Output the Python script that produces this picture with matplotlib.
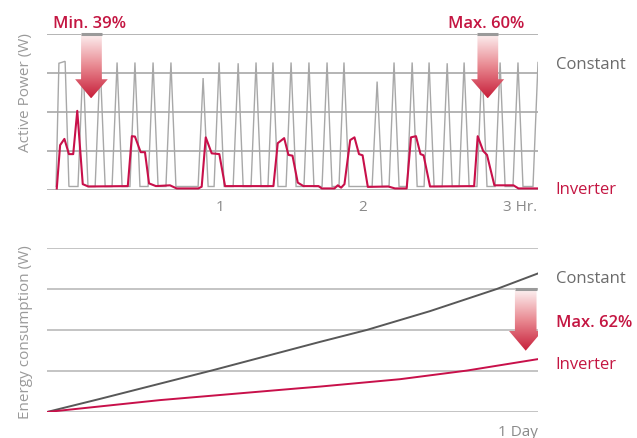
import numpy as np
import matplotlib
matplotlib.use("Agg")
import matplotlib.pyplot as plt
from matplotlib.patches import Polygon
from matplotlib.colors import LinearSegmentedColormap
import matplotlib.transforms as mtransforms

plt.rcParams['font.family'] = ['Open Sans', 'DejaVu Sans']

# ---- top chart: active power over ~3 hours (x in minutes, y in grid units 0..4)
const_t = [-8.8, -7.6, -5.0, -3.4, 0.4,
           2.5, 4.6, 7.6, 9.7, 11.8, 14.7, 16.8, 18.9, 22.2, 24.3, 26.4,
           29.8, 31.9, 34.0, 37.3, 39.4, 41.5,
           50.8, 52.9, 55.0, 57.5, 59.6, 61.7, 65.5, 67.6, 69.7, 73.0, 75.1,
           77.2, 80.1, 82.2, 84.3, 87.7, 89.8, 91.9, 95.2, 97.3, 99.4, 102.8,
           104.9, 107.0, 109.9, 112.0, 114.1,
           123.8, 125.9, 128.0, 130.9, 133.0, 135.1, 138.5, 140.6, 142.7,
           145.6, 147.7, 149.8, 153.2, 155.3, 157.4, 160.3, 162.4, 164.5,
           167.8, 169.9, 172.0, 175.4, 177.5, 179.6, 182.9, 185.0, 187.1,
           191.3, 193.4]
const_p = [0.09, 3.25, 3.30, 0.09, 0.09,
           3.27, 0.09, 0.09, 3.27, 0.09, 0.09, 3.27, 0.09, 0.09, 3.27, 0.09,
           0.09, 3.27, 0.09, 0.09, 3.27, 0.09,
           0.09, 2.87, 0.09, 0.09, 3.27, 0.09, 0.09, 3.25, 0.09, 0.09, 3.27,
           0.09, 0.09, 3.27, 0.09, 0.09, 3.27, 0.09, 0.09, 3.27, 0.09, 0.09,
           3.27, 0.09, 0.09, 3.27, 0.09,
           0.09, 2.78, 0.09, 0.09, 3.27, 0.09, 0.09, 3.27, 0.09,
           0.09, 3.27, 0.09, 0.09, 3.25, 0.09, 0.09, 3.27, 0.09,
           0.09, 3.25, 0.09, 0.09, 3.27, 0.09, 0.09, 3.27, 0.09,
           0.09, 3.27]

inv_t = [-8.5, -7.1, -5.3, -3.4, -1.6, 0.1, 2.4, 4.7,
         21.3, 23.0, 24.3, 26.7, 28.5, 30.2, 33.1, 39.0, 41.8,
         50.9, 52.3, 54.0, 56.5, 59.7, 62.1,
         82.4, 84.2, 86.9, 88.7, 90.4, 92.6, 95.0,
         101.3, 102.7, 108.0, 109.4, 110.8, 112.2,
         114.6, 116.4, 118.3, 119.8, 122.0,
         130.6, 133.4, 138.3, 140.1, 142.2, 144.1, 145.4, 148.1,
         166.6, 168.1, 170.4, 172.0, 175.1, 183.1, 185.2, 193.4]
inv_p = [0.04, 1.15, 1.31, 0.92, 0.92, 2.03, 0.15, 0.09,
         0.10, 1.38, 1.37, 0.97, 0.97, 0.17, 0.10, 0.12, 0.04,
         0.04, 0.085, 1.35, 0.94, 0.92, 0.10,
         0.10, 1.20, 1.33, 0.90, 0.88, 0.19, 0.10,
         0.10, 0.04, 0.04, 0.12, 0.06, 0.15,
         1.28, 1.35, 0.92, 0.89, 0.08,
         0.09, 0.04, 0.04, 1.35, 1.38, 0.92, 0.89, 0.09,
         0.10, 1.38, 1.00, 0.90, 0.12, 0.12, 0.04, 0.04]

hour_ticks = [60, 120]
hour_labels = ['1', '2']

# ---- bottom chart: accumulated energy over one day (x in days)
const_d = [0.0, 0.108, 0.338, 0.556, 0.651, 0.780, 0.916, 1.0]
const_e = [0.0, 0.32, 1.02, 1.71, 2.00, 2.46, 3.00, 3.38]
inv_d = [0.0, 0.230, 0.515, 0.556, 0.719, 0.855, 1.0]
inv_e = [0.0, 0.29, 0.58, 0.62, 0.80, 1.01, 1.29]

RED = '#c8104a'
RED_TXT = '#c41642'
GREY_TXT = '#6b6b6b'
AX_TXT = '#9a9a9a'

fig = plt.figure(figsize=(6.37, 4.38), dpi=100)
ax1 = fig.add_axes([47/637, 1 - 190/438, 491/637, 156/438])
ax2 = fig.add_axes([47/637, 1 - 412/438, 491/637, 164/438])

for ax, gcol in ((ax1, '#a0a0a0'), (ax2, '#b4b4b4')):
    ax.set_ylim(0, 4)
    ax.set_yticks(range(5))
    ax.yaxis.grid(True, color=gcol, lw=1.1)
    ax.set_axisbelow(True)
    for s in ax.spines.values():
        s.set_visible(False)
    ax.tick_params(length=0, labelleft=False, labelsize=11, colors='#8a8a8a', pad=7)

ax1.plot(const_t, const_p, color='#a8a8a8', lw=1.0, solid_joinstyle='miter')
ax1.plot(inv_t, inv_p, color=RED, lw=1.5)
ax1.set_xlim(-12.6, 193.4)
ax1.set_xticks(hour_ticks)
ax1.set_xticklabels(hour_labels)
ax1.text(178.6, -0.55, '3 Hr.', ha='left', va='baseline', fontsize=11, color='#8a8a8a')

ax2.plot(const_d, const_e, color='#585858', lw=1.4)
ax2.plot(inv_d, inv_e, color=RED, lw=1.4)
ax2.set_xlim(0, 1)
ax2.set_xticks([])
ax2.text(1.0, -0.58, '1 Day', ha='right', va='baseline', fontsize=11, color='#8a8a8a')

cmap = LinearSegmentedColormap.from_list('arr', ['#fdf3f3', '#e98a92', '#c71f3a'])


def grad_arrow(ax, x0, x1, hx0, hx1, tipx, ytop, yhead, ytip):
    pts = [(x0, ytop), (x1, ytop), (x1, yhead), (hx1, yhead), (tipx, ytip),
           (hx0, yhead), (x0, yhead)]
    poly = Polygon(pts, closed=True, facecolor='none', edgecolor='none',
                   transform=ax.transData)
    ax.add_patch(poly)
    grad = np.linspace(0, 1, 200).reshape(-1, 1)
    im = ax.imshow(grad, cmap=cmap, aspect='auto', origin='upper',
                   extent=[hx0, hx1, ytip, ytop], zorder=5)
    im.set_clip_path(poly)
    im.set_clip_box(None)
    ax.plot([x0, x1], [ytop, ytop], color='#9a9a9a', lw=2.2, zorder=6,
            clip_on=False, solid_capstyle='butt')


grad_arrow(ax1, 1.7, 10.4, -0.8, 12.9, 5.9, 4.0, 2.84, 2.35)
grad_arrow(ax1, 168.0, 176.7, 165.3, 179.2, 172.3, 4.0, 2.84, 2.35)
grad_arrow(ax2, 0.953, 0.997, 0.941, 1.009, 0.975, 3.0, 1.976, 1.495)
ax1.set_xlim(-12.6, 193.4)
ax1.set_ylim(0, 4)
ax2.set_xlim(0, 1)
ax2.set_ylim(0, 4)

# annotations
fig.text(53/637, 1 - 28.3/438, 'Min. 39%', ha='left', va='baseline',
         fontsize=12, fontweight='semibold', color=RED_TXT)
fig.text(447.7/637, 1 - 28.3/438, 'Max. 60%', ha='left', va='baseline',
         fontsize=12, fontweight='semibold', color=RED_TXT)
fig.text(555.7/637, 1 - 69.3/438, 'Constant', ha='left', va='baseline',
         fontsize=12, color=GREY_TXT)
fig.text(555.7/637, 1 - 194.3/438, 'Inverter', ha='left', va='baseline',
         fontsize=12, color=RED_TXT)
fig.text(555.7/637, 1 - 282.7/438, 'Constant', ha='left', va='baseline',
         fontsize=12, color=GREY_TXT)
fig.text(555.7/637, 1 - 327.3/438, 'Max. 62%', ha='left', va='baseline',
         fontsize=12, fontweight='semibold', color=RED_TXT)
fig.text(555.7/637, 1 - 369.3/438, 'Inverter', ha='left', va='baseline',
         fontsize=12, color=RED_TXT)

fig.text(26/637, 1 - 92.7/438, 'Active Power (W)', rotation=90, ha='center',
         va='center', fontsize=11, color=AX_TXT)
fig.text(26/637, 1 - 331.7/438, 'Energy consumption (W)', rotation=90,
         ha='center', va='center', fontsize=11, color=AX_TXT)

fig.savefig('out.png', dpi=100)
